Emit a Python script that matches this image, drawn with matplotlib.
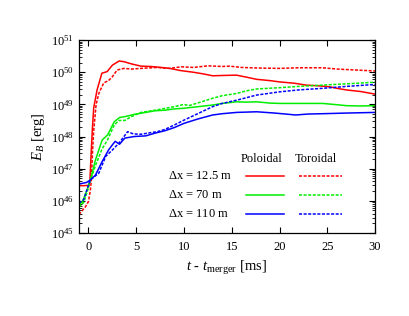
import numpy as np
import matplotlib
matplotlib.use("Agg")
import matplotlib.pyplot as plt
from matplotlib.ticker import LogLocator, MultipleLocator, NullFormatter

plt.rcParams['font.family'] = ['Liberation Serif', 'DejaVu Serif']
plt.rcParams['mathtext.fontset'] = 'custom'
plt.rcParams['mathtext.rm'] = 'Liberation Serif'
plt.rcParams['mathtext.it'] = 'Liberation Serif:italic'
plt.rcParams['font.size'] = 9

# log10(E_B / erg)
t_pol_125 = [-1, -0.5, 0.0, 0.15, 0.25, 0.4, 0.55, 0.9, 1.4, 1.95, 2.5, 3.2, 3.7, 4.5, 5.5, 6.5, 7.6,
             8.5, 9.7, 11, 12, 13, 14, 15.5, 16.5, 17.6, 19, 20, 21.5, 22.8, 24, 25.2, 26, 27, 28.5, 30]
e_pol_125 = [46.47, 46.47, 46.48, 46.6, 47.3, 48.2, 48.9, 49.45, 49.97, 50.02, 50.22, 50.35, 50.33, 50.26,
             50.19, 50.18, 50.15, 50.12, 50.05, 50.0, 49.95, 49.89, 49.9, 49.91, 49.85, 49.78, 49.74, 49.7,
             49.66, 49.6, 49.58, 49.55, 49.5, 49.45, 49.4, 49.32]
t_tor_125 = [-1, -0.3, 0.0, 0.2, 0.3, 0.42, 0.55, 0.8, 1.08, 1.6, 2.1, 2.5, 3.0, 3.7, 4.5, 5.5, 7.2, 8.5,
             9.7, 11, 12.5, 14, 14.8, 16, 18, 20, 22, 24.5, 26, 28, 30]
e_tor_125 = [45.57, 45.82, 45.98, 46.34, 46.65, 47.5, 48.2, 49.0, 49.34, 49.67, 49.74, 49.86, 50.07, 50.12,
             50.1, 50.12, 50.15, 50.12, 50.17, 50.15, 50.2, 50.18, 50.19, 50.15, 50.13, 50.12, 50.14, 50.14,
             50.1, 50.07, 50.04]

t_pol_70 = [-1, -0.6, -0.2, 0.2, 0.73, 1.08, 1.43, 2.0, 2.7, 3.25, 4.0, 4.8, 6, 6.9, 8, 9, 10, 11.5, 13,
            14, 15.5, 16.5, 17.6, 19, 20, 22, 24.5, 26, 27, 28.5, 30]
e_pol_70 = [45.85, 46.0, 46.3, 46.65, 47.27, 47.58, 47.89, 48.05, 48.46, 48.59, 48.63, 48.69, 48.75, 48.8,
            48.82, 48.86, 48.88, 48.93, 48.98, 49.03, 49.08, 49.07, 49.08, 49.04, 49.03, 49.03, 49.03,
            48.99, 48.96, 48.95, 48.96]
t_tor_70 = [-1, -0.5, 0, 0.2, 0.8, 1.4, 2.0, 2.7, 3.2, 3.8, 4.5, 5.5, 7, 9, 10, 10.5, 11.5, 13, 14, 15.5,
            16.5, 17.6, 20, 22, 24.5, 27, 30]
e_tor_70 = [45.8, 45.95, 46.4, 46.65, 47.15, 47.6, 47.9, 48.36, 48.5, 48.5, 48.62, 48.75, 48.82, 48.93,
            49.0, 48.96, 49.05, 49.19, 49.27, 49.34, 49.42, 49.48, 49.52, 49.56, 49.6, 49.64, 49.69]

t_pol_110 = [-1, -0.2, 0.2, 0.73, 1.43, 2.1, 2.5, 2.8, 3.25, 3.8, 4.8, 6, 6.9, 8, 9, 10, 11.5, 13, 14,
             15.5, 17.6, 19.5, 21.7, 23, 24.5, 27, 30]
e_pol_110 = [46.52, 46.57, 46.65, 46.8, 47.22, 47.58, 47.74, 47.85, 47.76, 47.95, 48.0, 48.02, 48.1, 48.18,
             48.28, 48.41, 48.55, 48.67, 48.71, 48.75, 48.77, 48.73, 48.67, 48.7, 48.71, 48.73, 48.75]
t_tor_110 = [-1, -0.5, -0.1, 0.2, 1.08, 1.8, 2.5, 3.2, 4.1, 4.7, 5.5, 6.5, 7.2, 8, 9, 10, 11.5, 13, 14,
             15.5, 17.6, 20, 22, 24.5, 27, 30]
e_tor_110 = [45.93, 46.03, 46.4, 46.65, 46.86, 47.38, 47.58, 47.8, 48.15, 48.08, 48.07, 48.12, 48.15, 48.22,
             48.36, 48.51, 48.72, 48.93, 49.03, 49.13, 49.29, 49.39, 49.45, 49.5, 49.56, 49.62]

labels = [r"$\Delta$x = 12.5 m", r"$\Delta$x = 70 m", r"$\Delta$x = 110 m"]
colors = ["#ff0000", "#00ee00", "#0000ff"]
series = [(t_pol_125, e_pol_125, t_tor_125, e_tor_125),
          (t_pol_70, e_pol_70, t_tor_70, e_tor_70),
          (t_pol_110, e_pol_110, t_tor_110, e_tor_110)]

fig = plt.figure(figsize=(4.09, 3.16), dpi=100)
ax = fig.add_axes([0.193, 0.263, 0.724, 0.61])

dash = (2.0, 1.0)
for (tp, ep, tt, et), c in zip(series, colors):
    ax.plot(tp, 10 ** np.array(ep), color=c, lw=1.1)
    ax.plot(tt, 10 ** np.array(et), color=c, lw=1.1, dashes=dash)

ax.set_yscale("log")
ax.set_xlim(-1, 30)
ax.set_ylim(1e45, 1e51)
ax.xaxis.set_major_locator(MultipleLocator(5))
ax.yaxis.set_major_locator(LogLocator(base=10, numticks=10))
ax.yaxis.set_minor_locator(LogLocator(base=10, subs=np.arange(2, 10), numticks=10))
ax.yaxis.set_minor_formatter(NullFormatter())
ax.tick_params(which="both", direction="in", top=True, right=True, labelsize=9)
ax.tick_params(which="major", length=4, width=0.8)
ax.tick_params(which="minor", length=2, width=0.6)
ax.tick_params(axis="x", pad=6)
for s in ax.spines.values():
    s.set_linewidth(0.9)

ax.set_xlabel(r"$t$ - $t_{\rm merger}$ [ms]", fontsize=10.5, labelpad=4)
ax.set_ylabel(r"$E_B$ [erg]", fontsize=10.5, labelpad=3)

# hand-made legend: row labels, column headers, line keys
ax.text(0.618, 0.383, "Poloidal", transform=ax.transAxes, ha="center", va="center", fontsize=9)
ax.text(0.80, 0.383, "Toroidal", transform=ax.transAxes, ha="center", va="center", fontsize=9)
rows_y = [0.295, 0.197, 0.098]
for lab, c, yy in zip(labels, colors, rows_y):
    ax.text(0.30, yy, lab, transform=ax.transAxes, ha="left", va="center", fontsize=9)
    ax.plot([0.564, 0.693], [yy, yy], transform=ax.transAxes, color=c, lw=1.1)
    ax.plot([0.743, 0.889], [yy, yy], transform=ax.transAxes, color=c, lw=1.1, dashes=dash)

fig.savefig("out.png", dpi=100)
